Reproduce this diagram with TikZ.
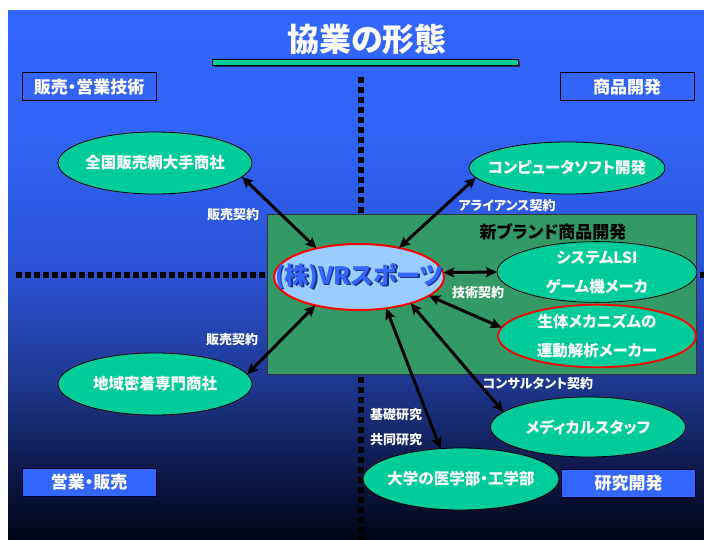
\documentclass[tikz,border=0pt]{standalone}
\usepackage{fontspec}
\setmainfont{Noto Sans CJK JP}[RawFeature=+palt]
\usetikzlibrary{shapes.geometric,arrows.meta}
\definecolor{bgA}{HTML}{3366FF}
\definecolor{bgB}{HTML}{3163F5}
\definecolor{bgC}{HTML}{2A52D2}
\definecolor{bgD}{HTML}{1E3890}
\definecolor{bgE}{HTML}{101C52}
\definecolor{bgF}{HTML}{000514}
\definecolor{ellgreen}{HTML}{00CC99}
\definecolor{rectgreen}{HTML}{339966}
\definecolor{vrfill}{HTML}{99CCFF}
\definecolor{vrblue}{HTML}{3366FF}
\definecolor{vrshadow}{HTML}{1A2E80}
\definecolor{boxblue}{HTML}{3366FF}
\definecolor{barshadow}{HTML}{1A2A66}
\pgfdeclareverticalshading{panelbg}{100bp}{color(0bp)=(bgF); color(25bp)=(bgF); color(32.5bp)=(bgE); color(40bp)=(bgD); color(50bp)=(bgC); color(62.5bp)=(bgB); color(75bp)=(bgA); color(100bp)=(bgA)}
\newcommand{\zw}[1]{\makebox[0pt]{#1}}
\begin{document}
\begin{tikzpicture}[x=1pt,y=-1pt,
  ell/.style={ellipse, draw=black, line width=0.8pt, fill=ellgreen, inner sep=0pt, outer sep=0pt,
    text=white, align=center, font=\bfseries\fontsize{15.5}{29}\selectfont},
  lab/.style={text=white, inner sep=0pt, font=\bfseries\fontsize{13}{15}\selectfont},
  boxlab/.style={draw=black, line width=1pt, minimum width=134pt, minimum height=28pt, inner sep=0pt,
    text=white, font=\bfseries\fontsize{17}{19}\selectfont},
  dbl/.style={{Stealth[length=11pt,width=10pt,inset=2pt]}-{Stealth[length=11pt,width=10pt,inset=2pt]}, line width=3pt, black},
  dotline/.style={line width=6pt, black}
]
\useasboundingbox (0,0) rectangle (704,540);
\fill[white] (0,0) rectangle (704,540);
\shade[shading=panelbg] (8,11) rectangle (704,540);

% dotted axes
\coordinate (vtop) at (361,77);
\coordinate (vbot) at (361,540);
\coordinate (hl) at (16,275);
\coordinate (hr) at (704,275);
\draw[dotline, dash pattern=on 6pt off 4pt] (vtop) -- (vbot);
\draw[dotline, dash pattern=on 6pt off 3pt] (hl) -- (hr);

% title
\node[text=white, inner sep=0pt, font=\bfseries\fontsize{32}{36}\selectfont] (title) at (367,39) {協業の形態};
\node[fill=barshadow, minimum width=306pt, minimum height=6pt, inner sep=0pt] (barsh) at (367,64) {};
\node[fill=ellgreen, draw=black, line width=0.8pt, minimum width=306pt, minimum height=6pt, inner sep=0pt] (bar) at (365,62) {};

% corner boxes
\node[boxlab] (b1) at (89,87) {販売・営業技術};
\node[boxlab] (b2) at (627,87) {商品開発};
\node[boxlab, fill=boxblue, draw=black!80!blue] (b3) at (89,482.5) {営業・販売};
\node[boxlab, fill=boxblue, draw=black!80!blue] (b4) at (628.5,483.5) {研究開発};

% group rectangle
\node[draw=black!80, line width=1pt, fill=rectgreen, minimum width=429pt, minimum height=159pt, inner sep=0pt] (grp) at (481.5,294.5) {};
\node[text=black, inner sep=0pt, font=\bfseries\fontsize{17}{19}\selectfont] (grplab) at (553,232) {新ブランド商品開発};

% ellipses
\node[ell, minimum width=194pt, minimum height=62pt] (zen) at (155,163) {\zw{全国販売網大手商社}};
\node[ell, minimum width=196pt, minimum height=52pt] (comp) at (567,168) {\zw{コンピュータソフト開発}};
\node[ell, minimum width=194pt, minimum height=62pt] (chiki) at (155,384) {\zw{地域密着専門商社}};
\node[ell, minimum width=200pt, minimum height=60pt] (sys) at (597,272) {システムLSI\\ゲーム機メーカ};
\node[ell, draw=red, line width=1.8pt, minimum width=198pt, minimum height=58pt] (sei) at (597,336) {生体メカニズムの\\運動解析メーカー};
\node[ell, minimum width=195pt, minimum height=60pt] (med) at (588,427) {\zw{メディカルスタッフ}};
\node[ell, minimum width=196pt, minimum height=62pt] (dai) at (461,479) {\zw{大学の医学部・工学部}};
\node[ell, draw=red, line width=2pt, fill=vrfill, text=vrblue, minimum width=170pt, minimum height=66pt,
  font=\bfseries\fontsize{24}{28}\selectfont] (vr) at (359,277)
  {\zw{\makebox[0pt][l]{\hspace{1.5pt}\raisebox{-1.5pt}{\color{vrshadow}(株)VRスポーツ}}(株)VRスポーツ}};

% arrows
\draw[dbl] (zen.-9) -- (vr.146);
\draw[dbl] (comp.186) -- (vr.36);
\draw[dbl] (vr.3) -- (sys.180);
\draw[dbl] (vr.-15) -- (sei.175);
\draw[dbl] (vr.213) -- (chiki.6);
\draw[dbl] (vr.-49) -- (dai.124);
\draw[dbl] (vr.-27) -- (med.170);

% labels
\node[lab] (l1) at (233,215) {販売契約};
\node[lab] (l2) at (507,206) {アライアンス契約};
\node[lab] (l3) at (478,293) {技術契約};
\node[lab] (l4) at (232,340) {販売契約};
\node[lab] (l5) at (538,384) {コンサルタント契約};
\node[lab] (l6) at (396,415) {基礎研究};
\node[lab] (l7) at (396,440) {共同研究};
\end{tikzpicture}
\end{document}
